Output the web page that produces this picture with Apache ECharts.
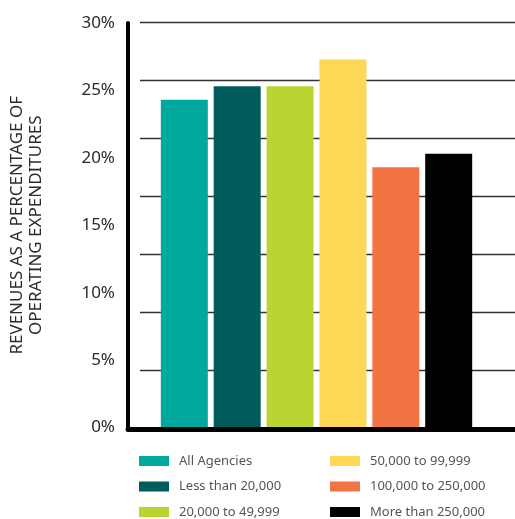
<!DOCTYPE html>
<html>
<head>
<meta charset="utf-8">
<script src="https://cdn.jsdelivr.net/npm/echarts@6/dist/echarts.min.js"></script>
<style>
  html, body { margin: 0; padding: 0; background: #fff; }
  #chart { width: 515px; height: 519px; }
</style>
</head>
<body>
<div id="chart"></div>
<script>
const seriesNames = ['All Agencies', 'Less than 20,000', '20,000 to 49,999', '50,000 to 99,999', '100,000 to 250,000', 'More than 250,000'];
const seriesValues = [24.3, 25.3, 25.3, 27.3, 19.3, 20.3];
const seriesColors = ['#00A99D', '#005B5C', '#BAD532', '#FED756', '#F27443', '#000000'];
const yTicks = [0, 5, 10, 15, 20, 25, 30];
const yTitle = 'REVENUES AS A PERCENTAGE OF\nOPERATING EXPENDITURES';
const FONT = 'Noto Sans';

const chart = echarts.init(document.getElementById('chart'), null, { renderer: 'canvas' });

const series = seriesNames.map((name, i) => ({
  name: name,
  type: 'bar',
  xAxisIndex: 0,
  yAxisIndex: 0,
  data: [seriesValues[i]],
  barWidth: 47,
  barGap: '12.5%',
  itemStyle: { color: seriesColors[i] },
  emphasis: { disabled: true },
  z: 2
}));

const legendCommon = {
  orient: 'vertical', top: 454.5, height: 80, padding: 0,
  icon: 'rect', itemWidth: 30, itemHeight: 10, itemGap: 12.5,
  textStyle: { fontSize: 13, color: '#555', fontFamily: FONT, padding: [0, 0, 0, 5] },
  selectedMode: false
};

const option = {
  animation: false,
  backgroundColor: '#ffffff',
  textStyle: { fontFamily: FONT },
  grid: [
    { left: 128, right: 10, top: 23, bottom: 91.5, containLabel: false },
    { left: 140, right: 0, top: 22, bottom: 91, containLabel: false }
  ],
  xAxis: [
    {
      type: 'category', gridIndex: 0, data: ['Revenues'],
      axisLabel: { show: false }, axisTick: { show: false },
      axisLine: { show: true, onZero: false, lineStyle: { color: '#000', width: 5 } },
      offset: 2, z: 10
    },
    {
      type: 'value', gridIndex: 1, min: 0, max: 1,
      axisLabel: { show: false }, axisTick: { show: false }, splitLine: { show: false },
      axisLine: { show: true, onZero: false, lineStyle: { color: '#000', width: 5 } },
      offset: 1.5, z: 10
    }
  ],
  yAxis: [
    {
      type: 'value', gridIndex: 0, min: yTicks[0], max: yTicks[yTicks.length - 1], interval: yTicks[1] - yTicks[0],
      axisLine: { show: true, lineStyle: { color: '#000', width: 4 } },
      axisTick: { show: false },
      splitLine: { show: false },
      axisLabel: { formatter: '{value}%', fontSize: 17, color: '#2b2b2b', margin: 13, fontFamily: FONT },
      name: yTitle,
      nameLocation: 'middle',
      nameRotate: 90,
      nameGap: 82,
      nameTextStyle: { fontSize: 17, color: '#2b2b2b', fontFamily: FONT, lineHeight: 19, align: 'center' },
      z: 10
    },
    {
      type: 'value', gridIndex: 1, min: 0, max: 7, interval: 1,
      axisLine: { show: false }, axisTick: { show: false }, axisLabel: { show: false },
      splitLine: { show: true, lineStyle: { color: '#333', width: 1.4 } }
    }
  ],
  legend: [
    Object.assign({}, legendCommon, { left: 139, data: seriesNames.slice(0, 3) }),
    Object.assign({}, legendCommon, { left: 330, data: seriesNames.slice(3) })
  ],
  series: series
};

chart.setOption(option);
</script>
</body>
</html>
